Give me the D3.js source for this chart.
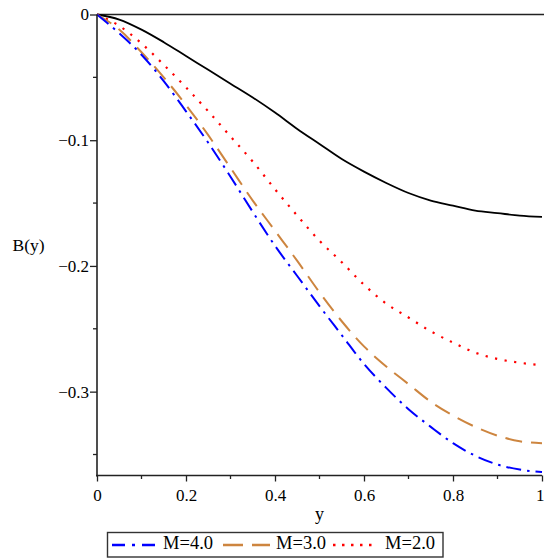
<!DOCTYPE html>
<html>
<head>
<meta charset="utf-8">
<script src="https://cdn.jsdelivr.net/npm/d3@7"></script>
<style>
  html, body { margin: 0; padding: 0; background: #fff; }
  svg { display: block; }
  text { font-family: "Liberation Serif", "Times New Roman", "DejaVu Serif", serif; fill: #000; }
</style>
</head>
<body>
<svg id="chart" width="544" height="558"></svg>
<script>
// ---- data ----
const yValues = [0, 0.05, 0.1, 0.15, 0.2, 0.25, 0.3, 0.35, 0.4, 0.45, 0.5, 0.55, 0.6, 0.65, 0.7, 0.75, 0.8, 0.85, 0.9, 0.95, 1.0];
const bBase = [0, -0.004, -0.012, -0.022, -0.033, -0.044, -0.055, -0.066, -0.078, -0.091, -0.103, -0.115, -0.125, -0.134, -0.142, -0.148, -0.152, -0.156, -0.158, -0.160, -0.161];
const bM2 = [0, -0.009, -0.023, -0.040, -0.058, -0.077, -0.097, -0.117, -0.139, -0.160, -0.180, -0.197, -0.215, -0.230, -0.241, -0.252, -0.261, -0.269, -0.274, -0.277, -0.279];
const bM3 = [0, -0.012, -0.030, -0.050, -0.072, -0.096, -0.122, -0.148, -0.172, -0.196, -0.221, -0.244, -0.264, -0.280, -0.294, -0.308, -0.319, -0.328, -0.335, -0.3395, -0.341];
const bM4 = [0, -0.015, -0.032, -0.053, -0.077, -0.102, -0.129, -0.157, -0.184, -0.208, -0.232, -0.255, -0.278, -0.297, -0.314, -0.328, -0.341, -0.351, -0.358, -0.362, -0.364];
const legendLabels = ["M=4.0", "M=3.0", "M=2.0"];
const xTickValues = [0, 0.2, 0.4, 0.6, 0.8, 1];
const xTickLabels = ["0", "0.2", "0.4", "0.6", "0.8", "1"];
const yTickValues = [0, -0.1, -0.2, -0.3];
const yTickLabels = ["0", "\u22120.1", "\u22120.2", "\u22120.3"];
const xMinorTicks = [0.1, 0.3, 0.5, 0.7, 0.9];
const yMinorTicks = [-0.05, -0.15, -0.25, -0.35];

// ---- layout ----
const svg = d3.select("#chart");
const x = d3.scaleLinear().domain([0, 1]).range([97, 542]);
const y = d3.scaleLinear().domain([-0.3667, 0]).range([475.5, 14.5]);
const axisColor = "#222";
const serif = '"Liberation Serif", "Times New Roman", "DejaVu Serif", serif';

const series = [
  { vals: bBase, color: "#000000", dash: null, width: 1.8 },
  { vals: bM2, color: "#ff0000", dash: "2.2,7.5", width: 2.2 },
  { vals: bM3, color: "#cd853f", dash: "17,9", width: 2.0 },
  { vals: bM4, color: "#0000ff", dash: "15,6,2.5,6", width: 2.0 }
];

const line = d3.line().x(d => x(d[0])).y(d => y(d[1])).curve(d3.curveMonotoneX);

// top line at zero
svg.append("line")
  .attr("x1", x(0)).attr("x2", 544)
  .attr("y1", y(0)).attr("y2", y(0))
  .attr("stroke", axisColor).attr("stroke-width", 1.6);

series.forEach(s => {
  svg.append("path")
    .datum(yValues.map((v, i) => [v, s.vals[i]]))
    .attr("d", line)
    .attr("fill", "none")
    .attr("stroke", s.color)
    .attr("stroke-width", s.width)
    .attr("stroke-dasharray", s.dash);
});

// x axis
const xAxis = d3.axisBottom(x).tickValues(xTickValues)
  .tickFormat((d, i) => xTickLabels[i]).tickSize(6).tickSizeOuter(0);
const gx = svg.append("g").attr("transform", `translate(0,${y.range()[0]})`).call(xAxis);
gx.attr("font-family", serif);
gx.select(".domain").attr("stroke", axisColor).attr("stroke-width", 1.6)
  .attr("d", `M${x(0) - 1},0H${x(1)}`);
gx.selectAll(".tick line").attr("stroke", axisColor).attr("stroke-width", 1.3);
gx.selectAll(".tick text").attr("font-size", 17).attr("dy", "0.95em")
  .style("font-family", serif).attr("fill", "#000")
  .attr("text-anchor", (d, i) => i === xTickValues.length - 1 ? "end" : "middle")
  .attr("x", (d, i) => i === xTickValues.length - 1 ? 2 : 0);
gx.selectAll(".minor").data(xMinorTicks).enter().append("line")
  .attr("x1", d => x(d)).attr("x2", d => x(d)).attr("y1", 0).attr("y2", 3.5)
  .attr("stroke", axisColor).attr("stroke-width", 1.3);

// y axis
const yAxis = d3.axisLeft(y).tickValues(yTickValues)
  .tickFormat((d, i) => yTickLabels[i]).tickSize(7).tickSizeOuter(0);
const gy = svg.append("g").attr("transform", `translate(${x(0)},0)`).call(yAxis);
gy.attr("font-family", serif);
gy.select(".domain").attr("stroke", axisColor).attr("stroke-width", 1.6)
  .attr("d", `M0,${y(0)}V${y.range()[0] + 1}`);
gy.selectAll(".tick line").attr("stroke", axisColor).attr("stroke-width", 1.3);
gy.selectAll(".tick text").attr("font-size", 17).attr("x", -8)
  .style("font-family", serif).attr("fill", "#000");
gy.selectAll(".minor").data(yMinorTicks).enter().append("line")
  .attr("x1", 0).attr("x2", -4).attr("y1", d => y(d)).attr("y2", d => y(d))
  .attr("stroke", axisColor).attr("stroke-width", 1.3);

// axis titles
svg.append("text").attr("x", 28.5).attr("y", 247).attr("text-anchor", "middle")
  .attr("dominant-baseline", "middle").attr("font-size", 17.5).text("B(y)");
svg.append("text").attr("x", 319.5).attr("y", 520).attr("text-anchor", "middle")
  .attr("font-size", 18).text("y");

// legend
const lg = svg.append("g");
lg.append("rect").attr("x", 107.5).attr("y", 532.5).attr("width", 335.5).attr("height", 24.5)
  .attr("fill", "#fff").attr("stroke", "#333").attr("stroke-width", 1.4);
const legendItems = [
  { s: series[3], x0: 112, x1: 155, tx: 163 },
  { s: series[2], x0: 223, x1: 270, tx: 276 },
  { s: series[1], x0: 333, x1: 378, tx: 385 }
];
legendItems.forEach((it, i) => {
  lg.append("line").attr("x1", it.x0).attr("x2", it.x1).attr("y1", 545).attr("y2", 545)
    .attr("stroke", it.s.color).attr("stroke-width", 2.6)
    .attr("stroke-dasharray", i === 0 ? "13,7,3,7" : (i === 1 ? "20,9" : "2.5,6.5"));
  lg.append("text").attr("x", it.tx).attr("y", 545).attr("dominant-baseline", "middle")
    .attr("font-size", 18.5).text(legendLabels[i]);
});
</script>
</body>
</html>
